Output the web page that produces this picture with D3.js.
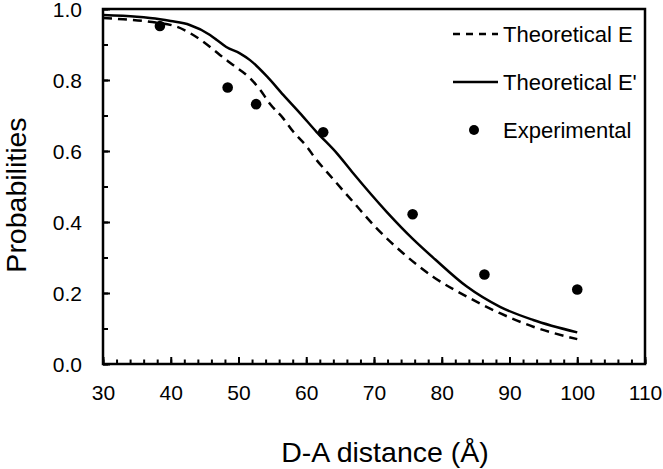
<!DOCTYPE html>
<html><head><meta charset="utf-8">
<script src="https://cdn.jsdelivr.net/npm/d3@7"></script>
<style>body{margin:0;background:#fff}svg{display:block}text{font-family:"Liberation Sans",Arial,sans-serif;fill:#000}</style>
</head><body><svg id="c" width="663" height="469"></svg>
<script>
const theoE_x = [30,33,36.9,40.9,44.5,47.3,49.2,51.7,53.2,54.6,56.6,58.1,60.1,61.5,63.0,66.9,70.4,74.3,78.7,83.7,88.6,93.5,100];
const theoE_y = [0.975,0.971,0.964,0.950,0.912,0.870,0.842,0.805,0.772,0.734,0.692,0.654,0.612,0.575,0.542,0.457,0.382,0.312,0.246,0.190,0.143,0.105,0.070];
const theoEp_x = [30,35,38.4,40,42.8,45.8,46.8,48.2,50.2,51.7,54.2,56.6,59.1,61.5,64.5,66.9,71.9,75.8,79,83.7,88.6,93.5,100];
const theoEp_y = [0.983,0.978,0.971,0.966,0.955,0.927,0.913,0.893,0.875,0.856,0.810,0.758,0.706,0.654,0.594,0.538,0.428,0.351,0.295,0.218,0.161,0.124,0.089];
const exp_x = [38.4,48.4,52.6,62.5,75.7,86.3,100.0];
const exp_y = [0.952,0.779,0.732,0.653,0.422,0.252,0.210];
const xTicks = [30,40,50,60,70,80,90,100,110];
const yTicks = [0,0.2,0.4,0.6,0.8,1.0];
const legendLabels = ["Theoretical E","Theoretical E'","Experimental"];

const svg = d3.select("#c");
const L=103,R=645,T=9,B=364;
const x = d3.scaleLinear().domain([30,110]).range([L,R]);
const y = d3.scaleLinear().domain([0,1]).range([B,T]);

const xMinor = d3.range(30,110.01,2);
const yMinor = d3.range(0,1.001,0.1);
svg.append("g").attr("transform",`translate(0,${B})`)
  .call(d3.axisBottom(x).tickValues(xMinor).tickSize(-4.5).tickFormat(""))
  .call(g=>g.select(".domain").remove())
  .call(g=>g.selectAll("line").attr("stroke","#000").attr("stroke-width",2));
svg.append("g").attr("transform",`translate(${L},0)`)
  .call(d3.axisLeft(y).tickValues(yMinor).tickSize(-5).tickFormat(""))
  .call(g=>g.select(".domain").remove())
  .call(g=>g.selectAll("line").attr("stroke","#000").attr("stroke-width",2));
svg.append("g").attr("transform",`translate(0,${B})`)
  .call(d3.axisBottom(x).tickValues(xTicks).tickSizeInner(-7).tickSizeOuter(0).tickPadding(21).tickFormat(d3.format("d")))
  .call(g=>g.select(".domain").remove())
  .call(g=>g.selectAll("line").attr("stroke","#000").attr("stroke-width",2))
  .call(g=>g.selectAll("text").attr("font-size",21).attr("font-family","Liberation Sans, Arial").attr("fill","#000"));
svg.append("g").attr("transform",`translate(${L},0)`)
  .call(d3.axisLeft(y).tickValues(yTicks).tickSizeInner(-7).tickSizeOuter(0).tickPadding(21).tickFormat(d3.format(".1f")))
  .call(g=>g.select(".domain").remove())
  .call(g=>g.selectAll("line").attr("stroke","#000").attr("stroke-width",2))
  .call(g=>g.selectAll("text").attr("font-size",21).attr("dy","0.37em").attr("font-family","Liberation Sans, Arial").attr("fill","#000"));

svg.append("rect").attr("x",L).attr("y",T).attr("width",R-L).attr("height",B-T)
  .attr("fill","none").attr("stroke","#000").attr("stroke-width",2.5);

const line = d3.line().x(d=>x(d[0])).y(d=>y(d[1])).curve(d3.curveMonotoneX);
svg.append("path").datum(theoE_x.map((v,i)=>[v,theoE_y[i]])).attr("d",line)
  .attr("fill","none").attr("stroke","#000").attr("stroke-width",2.5).attr("stroke-dasharray","9,6");
svg.append("path").datum(theoEp_x.map((v,i)=>[v,theoEp_y[i]])).attr("d",line)
  .attr("fill","none").attr("stroke","#000").attr("stroke-width",2.5);
svg.selectAll("circle.pt").data(exp_x.map((v,i)=>[v,exp_y[i]])).enter().append("circle")
  .attr("class","pt").attr("cx",d=>x(d[0])).attr("cy",d=>y(d[1])).attr("r",5.3).attr("fill","#000");

const ly=[34,82,130];
svg.append("line").attr("x1",453).attr("x2",498).attr("y1",ly[0]).attr("y2",ly[0])
  .attr("stroke","#000").attr("stroke-width",2.5).attr("stroke-dasharray","7,6");
svg.append("line").attr("x1",453).attr("x2",498).attr("y1",ly[1]).attr("y2",ly[1])
  .attr("stroke","#000").attr("stroke-width",2.5);
svg.append("circle").attr("cx",474).attr("cy",ly[2]).attr("r",5).attr("fill","#000");
legendLabels.forEach((t,i)=>{
  svg.append("text").attr("x",503).attr("y",ly[i]+7.5).attr("font-size",22).text(t);
});

svg.append("text").attr("x",385).attr("y",462).attr("text-anchor","middle").attr("font-size",28.5).text("D-A distance (Å)");
svg.append("text").attr("transform","translate(26,195) rotate(-90)").attr("text-anchor","middle").attr("font-size",28.5).text("Probabilities");
</script></body></html>
